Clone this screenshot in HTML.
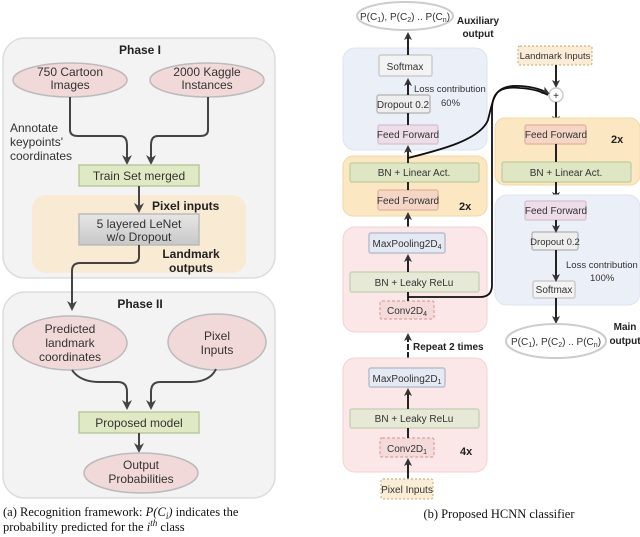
<!DOCTYPE html>
<html><head><meta charset="utf-8"><style>
body{margin:0;background:#fff}
svg{display:block}
.s{font-family:"Liberation Sans",sans-serif}
.n{font-family:"Liberation Sans",sans-serif;font-size:10px;fill:#333}
.l{font-family:"Liberation Sans",sans-serif;font-size:9.5px;fill:#333}
.b{font-family:"Liberation Sans",sans-serif;font-weight:bold;fill:#222}
.c{font-family:"Liberation Serif",serif;font-size:12.5px;fill:#111}
</style></head><body>
<svg width="640" height="537" viewBox="0 0 640 537">
<defs>
<marker id="a" markerWidth="8" markerHeight="8" refX="6" refY="4" orient="auto" markerUnits="userSpaceOnUse"><path d="M0,0 L8,4 L0,8 L2,4z" fill="#333"/></marker>
<marker id="k" markerWidth="10" markerHeight="10" refX="8" refY="5" orient="auto" markerUnits="userSpaceOnUse"><path d="M0,0 L10,5 L0,10 L3,5z" fill="#444"/></marker>
<linearGradient id="g" x1="0" y1="0" x2="0" y2="1"><stop offset="0" stop-color="#e6e6e6"/><stop offset="1" stop-color="#c8c8c8"/></linearGradient>
</defs>
<!-- LEFT -->
<rect x="3" y="38" width="272" height="240" rx="22" fill="#f3f3f3" stroke="#ddd" stroke-width="1.5"/>
<text x="140" y="54" class="b" font-size="12" text-anchor="middle">Phase I</text>
<ellipse cx="70" cy="80" rx="57" ry="17" fill="#f2d9d9" stroke="#bbb" stroke-width="1.5"/>
<text x="70" y="76" class="s" font-size="12" text-anchor="middle" fill="#333">750 Cartoon</text>
<text x="70" y="89" class="s" font-size="12" text-anchor="middle" fill="#333">Images</text>
<ellipse cx="207" cy="80" rx="57" ry="17" fill="#f2d9d9" stroke="#bbb" stroke-width="1.5"/>
<text x="207" y="76" class="s" font-size="12" text-anchor="middle" fill="#333">2000 Kaggle</text>
<text x="207" y="89" class="s" font-size="12" text-anchor="middle" fill="#333">Instances</text>
<text x="10" y="132" class="s" font-size="12" fill="#333">Annotate</text>
<text x="10" y="146" class="s" font-size="12" fill="#333">keypoints'</text>
<text x="10" y="160" class="s" font-size="12" fill="#333">coordinates</text>
<path d="M70,97 V130 Q70,136 78,136 H120 Q127,136 127,145 V163" fill="none" stroke="#444" stroke-width="2" marker-end="url(#k)"/>
<path d="M208,97 V130 Q208,136 200,136 H158 Q151,136 151,145 V163" fill="none" stroke="#444" stroke-width="2" marker-end="url(#k)"/>
<rect x="79" y="165" width="120" height="21" fill="#dfeac5" stroke="#b9c99d" stroke-width="1.5"/>
<text x="139" y="180" class="s" font-size="12" text-anchor="middle" fill="#333">Train Set merged</text>
<rect x="32" y="195" width="214" height="78" rx="14" fill="#f8e9cf" opacity="0.9"/>
<text x="152" y="210" class="b" font-size="12">Pixel inputs</text>
<path d="M139,186 V211" stroke="#444" stroke-width="2" marker-end="url(#k)"/>
<rect x="79" y="214" width="120" height="31" fill="url(#g)" stroke="#bbb" stroke-width="1.5"/>
<text x="139" y="228" class="s" font-size="12" text-anchor="middle" fill="#333">5 layered LeNet</text>
<text x="139" y="241" class="s" font-size="12" text-anchor="middle" fill="#333">w/o Dropout</text>
<text x="191" y="258" class="b" font-size="12" text-anchor="middle">Landmark</text>
<text x="191" y="272" class="b" font-size="12" text-anchor="middle">outputs</text>
<rect x="3" y="292" width="272" height="206" rx="22" fill="#f3f3f3" stroke="#ddd" stroke-width="1.5"/>
<path d="M139,245 V257 Q139,263 131,263 H80 Q72,263 72,271 V309" fill="none" stroke="#444" stroke-width="2" marker-end="url(#k)"/>
<text x="140" y="308" class="b" font-size="12" text-anchor="middle">Phase II</text>
<ellipse cx="70" cy="343" rx="57" ry="27" fill="#f2d9d9" stroke="#bbb" stroke-width="1.5"/>
<text x="70" y="333" class="s" font-size="12" text-anchor="middle" fill="#333">Predicted</text>
<text x="70" y="347" class="s" font-size="12" text-anchor="middle" fill="#333">landmark</text>
<text x="70" y="361" class="s" font-size="12" text-anchor="middle" fill="#333">coordinates</text>
<ellipse cx="217" cy="342" rx="49" ry="28" fill="#f2d9d9" stroke="#bbb" stroke-width="1.5"/>
<text x="217" y="340" class="s" font-size="12" text-anchor="middle" fill="#333">Pixel</text>
<text x="217" y="354" class="s" font-size="12" text-anchor="middle" fill="#333">Inputs</text>
<path d="M72,370 Q80,382 100,382 H118 Q127,382 127,392 V408" fill="none" stroke="#444" stroke-width="2" marker-end="url(#k)"/>
<path d="M216,369 Q210,382 190,382 H160 Q151,382 151,392 V408" fill="none" stroke="#444" stroke-width="2" marker-end="url(#k)"/>
<rect x="79" y="412" width="120" height="21" fill="#dfeac5" stroke="#b9c99d" stroke-width="1.5"/>
<text x="139" y="427" class="s" font-size="12" text-anchor="middle" fill="#333">Proposed model</text>
<path d="M139,433 V451" stroke="#444" stroke-width="2" marker-end="url(#k)"/>
<ellipse cx="141" cy="473" rx="57" ry="20" fill="#f2d9d9" stroke="#bbb" stroke-width="1.5"/>
<text x="141" y="469" class="s" font-size="12" text-anchor="middle" fill="#333">Output</text>
<text x="141" y="483" class="s" font-size="12" text-anchor="middle" fill="#333">Probabilities</text>
<text x="3" y="516" class="c">(a) Recognition framework: <tspan font-style="italic">P(C</tspan><tspan font-style="italic" font-size="9" dy="3">i</tspan><tspan font-style="italic" dy="-3">)</tspan> indicates the</text>
<text x="3" y="531" class="c">probability predicted for the <tspan font-style="italic">i</tspan><tspan font-style="italic" font-size="9" dy="-5">th</tspan><tspan dy="5"> class</tspan></text>

<!-- RIGHT -->
<ellipse cx="405" cy="16" rx="48" ry="14" fill="#fff" stroke="#ccc" stroke-width="2"/>
<text x="405" y="20" class="n" text-anchor="middle">P(C<tspan font-size="7" dy="2">1</tspan><tspan dy="-2">), P(C</tspan><tspan font-size="7" dy="2">2</tspan><tspan dy="-2">) .. P(C</tspan><tspan font-size="7" dy="2">n</tspan><tspan dy="-2">)</tspan></text>
<text x="478" y="24" class="b" font-size="10" text-anchor="middle">Auxiliary</text>
<text x="478" y="37" class="b" font-size="10" text-anchor="middle">output</text>

<rect x="343" y="48" width="144" height="102" rx="12" fill="#eaeff8" stroke="#dde3ef"/>
<rect x="379" y="55" width="53" height="21" rx="2" fill="#f3f3f3" stroke="#ccc" stroke-width="1.5"/>
<text x="405" y="70" class="n" text-anchor="middle">Softmax</text>
<rect x="377" y="95" width="53" height="18" rx="2" fill="#eee" stroke="#bbb" stroke-width="1.5"/>
<text x="403" y="108" class="n" text-anchor="middle">Dropout 0.2</text>
<text x="414" y="92" class="l">Loss contribution</text>
<text x="441" y="106" class="l">60%</text>
<rect x="378" y="125" width="60" height="19" rx="2" fill="#eddde8" stroke="#d9c5d3" stroke-width="1.5"/>
<text x="408" y="138" class="n" text-anchor="middle">Feed Forward</text>
<path d="M408,55 V34" stroke="#222" stroke-width="2" marker-end="url(#a)"/>
<path d="M408,95 V80" stroke="#222" stroke-width="2" marker-end="url(#a)"/>
<path d="M408,125 V113" stroke="#222" stroke-width="2"/>

<rect x="343" y="156" width="144" height="60" rx="10" fill="#fbe8c3" stroke="#f0d7a5"/>
<rect x="350" y="163" width="129" height="19" rx="2" fill="#dfe6c4" stroke="#c7d0a5" stroke-width="1.5"/>
<text x="414" y="176" class="n" text-anchor="middle">BN + Linear Act.</text>
<rect x="378" y="190" width="60" height="20" rx="2" fill="#f5d6c5" stroke="#e3b9a3" stroke-width="1.5"/>
<text x="408" y="204" class="n" text-anchor="middle">Feed Forward</text>
<text x="459" y="210" class="b" font-size="11">2x</text>
<path d="M408,163 V147" stroke="#222" stroke-width="2" marker-end="url(#a)"/>
<path d="M408,190 V182" stroke="#222" stroke-width="2"/>
<path d="M408,233 V214" stroke="#222" stroke-width="2" marker-end="url(#a)"/>

<rect x="343" y="227" width="144" height="105" rx="12" fill="#fbe7e7" stroke="#f3d2d2"/>
<rect x="369" y="233" width="76" height="20" rx="2" fill="#e4e9f3" stroke="#b9bfcc" stroke-width="1.5"/>
<text x="407" y="247" class="n" text-anchor="middle">MaxPooling2D<tspan font-size="7" dy="2">4</tspan></text>
<rect x="350" y="272" width="129" height="20" rx="2" fill="#e5e9d5" stroke="#ccd2b9" stroke-width="1.5"/>
<text x="414" y="286" class="n" text-anchor="middle">BN + Leaky ReLu</text>
<rect x="380" y="301" width="54" height="18" rx="2" fill="#f5dada" stroke="#dca0a0" stroke-dasharray="3,2" stroke-width="1.2"/>
<text x="407" y="314" class="n" text-anchor="middle">Conv2D<tspan font-size="7" dy="2">4</tspan></text>
<path d="M408,272 V256" stroke="#222" stroke-width="2" marker-end="url(#a)"/>
<path d="M408,301 V292" stroke="#222" stroke-width="2"/>
<path d="M408,358 V335" stroke="#222" stroke-width="2" stroke-dasharray="6,2" marker-end="url(#a)"/>
<text x="413" y="350" class="b" font-size="10">Repeat 2  times</text>

<rect x="343" y="358" width="144" height="114" rx="12" fill="#fbe7e7" stroke="#f3d2d2"/>
<rect x="369" y="368" width="76" height="19" rx="2" fill="#e4e9f3" stroke="#b9bfcc" stroke-width="1.5"/>
<text x="407" y="382" class="n" text-anchor="middle">MaxPooling2D<tspan font-size="7" dy="2">1</tspan></text>
<rect x="350" y="409" width="129" height="19" rx="2" fill="#e5e9d5" stroke="#ccd2b9" stroke-width="1.5"/>
<text x="414" y="422" class="n" text-anchor="middle">BN + Leaky ReLu</text>
<rect x="380" y="438" width="54" height="19" rx="2" fill="#f5dada" stroke="#dca0a0" stroke-dasharray="3,2" stroke-width="1.2"/>
<text x="407" y="452" class="n" text-anchor="middle">Conv2D<tspan font-size="7" dy="2">1</tspan></text>
<text x="460" y="455" class="b" font-size="11">4x</text>
<path d="M408,409 V390" stroke="#222" stroke-width="2" marker-end="url(#a)"/>
<path d="M408,438 V428" stroke="#222" stroke-width="2"/>
<path d="M408,479 V460" stroke="#222" stroke-width="2" marker-end="url(#a)"/>
<rect x="381" y="479" width="52" height="20" rx="2" fill="#fbecd6" stroke="#c9b48a" stroke-dasharray="2,2" stroke-width="1.2"/>
<text x="407" y="493" class="n" text-anchor="middle">Pixel Inputs</text>
<text x="499" y="518" class="c" text-anchor="middle">(b) Proposed HCNN classifier</text>

<!-- right column -->
<rect x="518" y="46" width="74" height="19" rx="2" fill="#fbecd6" stroke="#c9b48a" stroke-dasharray="2,2" stroke-width="1.2"/>
<text x="555" y="59" class="l" text-anchor="middle">Landmark Inputs</text>
<path d="M556,65 V86" stroke="#222" stroke-width="2" marker-end="url(#a)"/>
<circle cx="556" cy="95" r="7" fill="#fff" stroke="#ccc" stroke-width="1.5"/>
<text x="556" y="99" class="s" font-size="10" text-anchor="middle" fill="#222">+</text>
<path d="M556,102 V122" stroke="#222" stroke-width="2" marker-end="url(#a)"/>
<path d="M408,158 C440,150 480,140 488,120 C494,95 495,85 520,86 C535,87 542,90 548,93" fill="none" stroke="#111" stroke-width="1.8" marker-end="url(#a)"/>
<path d="M408,297 H480 Q492,297 492,285 V110 C492,92 500,86 520,88 C535,89 542,92 548,95" fill="none" stroke="#111" stroke-width="1.8"/>

<rect x="495" y="118" width="145" height="67" rx="10" fill="#fbe8c3" stroke="#f0d7a5"/>
<rect x="525" y="125" width="61" height="19" rx="2" fill="#f5d6c5" stroke="#e3b9a3" stroke-width="1.5"/>
<text x="556" y="138" class="n" text-anchor="middle">Feed Forward</text>
<text x="611" y="143" class="b" font-size="11">2x</text>
<rect x="502" y="162" width="129" height="20" rx="2" fill="#dfe6c4" stroke="#c7d0a5" stroke-width="1.5"/>
<text x="566" y="176" class="n" text-anchor="middle">BN + Linear Act.</text>
<path d="M556,144 V162" stroke="#222" stroke-width="2"/>
<path d="M556,182 V198" stroke="#222" stroke-width="2" marker-end="url(#a)"/>

<rect x="495" y="195" width="145" height="110" rx="12" fill="#eaeff8" stroke="#dde3ef"/>
<rect x="525" y="201" width="61" height="19" rx="2" fill="#eddde8" stroke="#d9c5d3" stroke-width="1.5"/>
<text x="556" y="214" class="n" text-anchor="middle">Feed Forward</text>
<rect x="532" y="232" width="46" height="18" rx="2" fill="#eee" stroke="#bbb" stroke-width="1.5"/>
<text x="555" y="245" class="l" text-anchor="middle">Dropout 0.2</text>
<text x="566" y="268" class="l">Loss contribution</text>
<text x="590" y="281" class="l">100%</text>
<rect x="533" y="281" width="42" height="17" rx="2" fill="#f3f3f3" stroke="#ccc" stroke-width="1.5"/>
<text x="554" y="293" class="n" text-anchor="middle">Softmax</text>
<path d="M556,220 V231" stroke="#222" stroke-width="2" marker-end="url(#a)"/>
<path d="M556,250 V280" stroke="#222" stroke-width="2" marker-end="url(#a)"/>
<path d="M556,298 V322" stroke="#222" stroke-width="2" marker-end="url(#a)"/>
<ellipse cx="556" cy="341" rx="50" ry="17" fill="#fff" stroke="#ccc" stroke-width="2"/>
<text x="556" y="345" class="n" text-anchor="middle">P(C<tspan font-size="7" dy="2">1</tspan><tspan dy="-2">), P(C</tspan><tspan font-size="7" dy="2">2</tspan><tspan dy="-2">) .. P(C</tspan><tspan font-size="7" dy="2">n</tspan><tspan dy="-2">)</tspan></text>
<text x="625" y="330" class="b" font-size="10" text-anchor="middle">Main</text>
<text x="625" y="344" class="b" font-size="10" text-anchor="middle">output</text>
</svg>
</body></html>
